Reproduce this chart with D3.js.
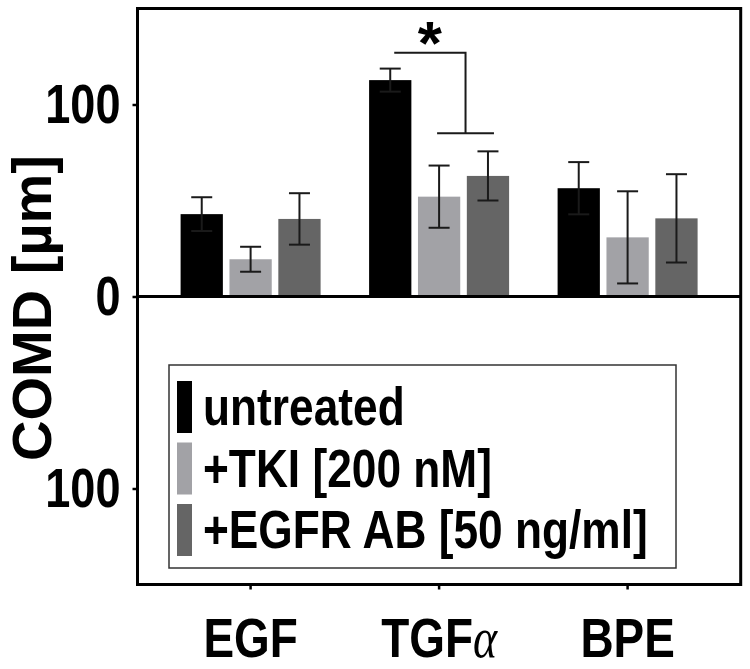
<!DOCTYPE html>
<html>
<head>
<meta charset="utf-8">
<script src="https://cdn.jsdelivr.net/npm/d3@7/dist/d3.min.js"></script>
<style>
  html, body { margin: 0; padding: 0; background: #fff; }
  svg { display: block; }
  text { font-family: "Liberation Sans", Arial, sans-serif; font-weight: bold; fill: #000; }
</style>
</head>
<body>
<svg id="chart" width="750" height="669"></svg>
<script>
// ---- data ----
const categories = ["EGF", "TGFα", "BPE"];
const seriesNames = ["untreated", "+TKI [200 nM]", "+EGFR AB [50 ng/ml]"];
const untreated    = [42.9, 112.7, 56.4];
const untreatedErr = [8.8, 6.0, 13.6];
const tki          = [19.4, 52.0, 30.8];
const tkiErr       = [6.5, 16.2, 24.0];
const egfrAb       = [40.4, 62.8, 40.7];
const egfrAbErr    = [13.4, 12.8, 23.0];
const yTicks = [100, 0, -100];
const yTickLabels = ["100", "0", "100"];
const yDomain = [-150, 150];
const yTitle = "COMD [µm]";
// significance bracket: between untreated and the two treated groups of TGFα
const sigCategory = "TGFα";
const sigUpper = 127, sigLower = 85, sigLabel = "*";

const colors = ["#000000", "#a2a2a6", "#656565"];
const seriesValues = [untreated, tki, egfrAb];
const seriesErrs = [untreatedErr, tkiErr, egfrAbErr];

// ---- layout ----
const svg = d3.select("#chart");
const L = 137.5, R = 740.7, T = 8.5, B = 584.5;
const SX = 0.82; // condensed text

const x = d3.scaleBand().domain(categories).range([L, R]).paddingInner(0).paddingOuter(0.1);
const xs = d3.scaleBand().domain(seriesNames).range([0, 140]).paddingInner(0.135).paddingOuter(0);
const xOff = (x.bandwidth() - 140) / 2;
const y = d3.scaleLinear().domain(yDomain).range([B, T]);

const rows = [];
categories.forEach((c, ci) => {
  seriesNames.forEach((s, si) => {
    rows.push({ c, s, si, v: seriesValues[si][ci], e: seriesErrs[si][ci] });
  });
});
const bx = d => x(d.c) + xOff + xs(d.s);

// bars
svg.append("g").selectAll("rect").data(rows).join("rect")
  .attr("x", d => bx(d))
  .attr("y", d => y(Math.max(0, d.v)))
  .attr("width", xs.bandwidth())
  .attr("height", d => Math.abs(y(d.v) - y(0)))
  .attr("fill", d => colors[d.si]);

// error bars
const eg = svg.append("g").attr("stroke", "#1a1a1a").attr("stroke-width", 2).attr("fill", "none");
const cap = 10.5;
rows.forEach(d => {
  const cx = bx(d) + xs.bandwidth() / 2;
  const y1 = y(d.v + d.e), y2 = y(d.v - d.e);
  eg.append("line").attr("x1", cx).attr("x2", cx).attr("y1", y1).attr("y2", y2);
  eg.append("line").attr("x1", cx - cap).attr("x2", cx + cap).attr("y1", y1).attr("y2", y1);
  eg.append("line").attr("x1", cx - cap).attr("x2", cx + cap).attr("y1", y2).attr("y2", y2);
});

// significance bracket
{
  const c0 = x(sigCategory) + xOff;
  const cBlack = c0 + xs(seriesNames[0]) + xs.bandwidth() / 2;
  const cGray = c0 + xs(seriesNames[1]) + xs.bandwidth() / 2;
  const cDark = c0 + xs(seriesNames[2]) + xs.bandwidth() / 2;
  const mid = (cGray + cDark) / 2 + 2;
  const g = svg.append("g").attr("stroke", "#1a1a1a").attr("stroke-width", 2).attr("fill", "none");
  g.append("path").attr("d", `M${cBlack + 4},${y(sigUpper)}H${mid}V${y(sigLower)}`);
  g.append("line").attr("x1", cGray - 2).attr("x2", cDark + 6).attr("y1", y(sigLower)).attr("y2", y(sigLower));
  svg.append("text").attr("x", (cBlack + 4 + mid) / 2).attr("y", y(sigUpper) + 11)
    .attr("text-anchor", "middle").style("font-size", "62px").text(sigLabel);
}

// zero line
svg.append("line").attr("x1", L).attr("x2", R).attr("y1", y(0)).attr("y2", y(0))
  .attr("stroke", "#000").attr("stroke-width", 3);

// frame
svg.append("rect").attr("x", L).attr("y", T).attr("width", R - L).attr("height", B - T)
  .attr("fill", "none").attr("stroke", "#000").attr("stroke-width", 3);

// y axis
const ya = svg.append("g").attr("transform", `translate(${L},0)`)
  .call(d3.axisLeft(y).tickValues(yTicks).tickSize(5).tickFormat((d, i) => yTickLabels[i]));
ya.select(".domain").remove();
ya.selectAll(".tick line").attr("stroke", "#000").attr("stroke-width", 2.5);
ya.selectAll(".tick text")
  .attr("x", -17 / SX).attr("dy", "0.33em")
  .attr("transform", `scale(${SX},1)`)
  .style("font-size", "55px").style("font-family", '"Liberation Sans", Arial, sans-serif').style("font-weight", "bold");

// x axis
const xa = svg.append("g").attr("transform", `translate(0,${B})`)
  .call(d3.axisBottom(x).tickSize(5).tickFormat(""));
xa.select(".domain").remove();
xa.selectAll(".tick line").attr("stroke", "#000").attr("stroke-width", 2.5);
xa.selectAll(".tick").each(function(d) {
  const t = d3.select(this).append("text")
    .attr("y", 73).attr("text-anchor", "middle")
    .attr("transform", `scale(${SX},1)`)
    .style("font-size", "56px");
  if (d.endsWith("α")) {
    t.append("tspan").text(d.slice(0, -1));
    t.append("tspan").style("font-family", '"Liberation Serif", "DejaVu Serif", serif')
      .style("font-weight", "normal").style("font-style", "italic").text("α");
  } else {
    t.text(d);
  }
});

// y title
svg.append("text")
  .attr("transform", `translate(51,308) rotate(-90)`)
  .attr("text-anchor", "middle")
  .style("font-size", "56px")
  .text(yTitle);

// legend
const lg = svg.append("g");
lg.append("rect").attr("x", 169).attr("y", 365).attr("width", 507).attr("height", 203)
  .attr("fill", "#fff").attr("stroke", "#333").attr("stroke-width", 1.5);
seriesNames.forEach((s, i) => {
  const ty = 381 + i * 61.5;
  lg.append("rect").attr("x", 177).attr("y", ty).attr("width", 15).attr("height", 52).attr("fill", colors[i]);
  lg.append("text").attr("transform", `translate(203,${ty + 44}) scale(${SX},1)`)
    .style("font-size", "54px").text(s);
});
</script>
</body>
</html>
